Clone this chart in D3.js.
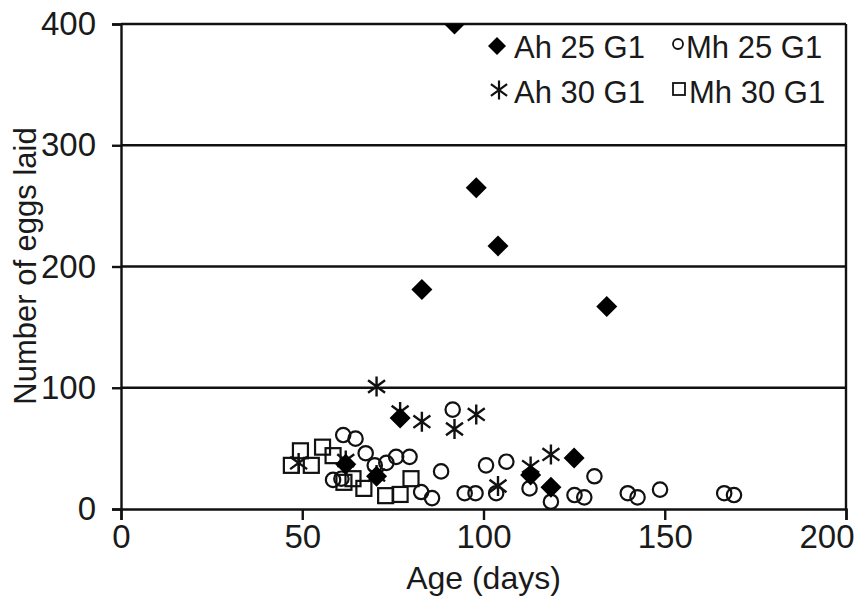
<!DOCTYPE html>
<html>
<head>
<meta charset="utf-8">
<script src="https://cdn.jsdelivr.net/npm/d3@7"></script>
<style>
  html, body { margin: 0; padding: 0; background: #ffffff; }
  svg { display: block; }
  text { font-family: "Liberation Sans", Arial, sans-serif; fill: #1a1a1a; }
</style>
</head>
<body>
<svg id="chart" width="857" height="601"></svg>
<script>
// ---- data ----
const ah25Age  = [92, 98, 104, 83, 134, 77, 62, 70.5, 113, 118.6, 125];
const ah25Eggs = [400, 265, 217, 181, 167, 75, 37, 27, 28, 18, 42];

const ah30Age  = [49, 62, 70.5, 70.5, 77, 83, 92, 98, 104, 113, 118.6];
const ah30Eggs = [38, 40, 101, 28, 80, 72, 66, 78, 19, 35, 45];

const mh25Age  = [61.3, 64.7, 67.5, 58.5, 60.8, 70, 73.2, 75.9, 79.6, 88.3, 82.8, 85.8, 91.5, 94.8, 97.8, 100.7, 106.3, 103.5, 112.7, 118.6, 130.6, 125.1, 127.8, 139.8, 142.5, 148.7, 166.4, 169.1];
const mh25Eggs = [61, 58, 46, 24, 25, 36, 38, 43, 43, 31, 14, 9, 82, 13, 13, 36, 39, 13, 17, 6, 27, 11.5, 9.6, 13, 9.6, 16, 13, 11.5];

const mh30Age  = [47, 49.5, 52.5, 55.6, 58.5, 61.5, 64, 67, 73, 77, 80];
const mh30Eggs = [36, 48, 36, 51, 44, 22, 25, 17, 11, 12, 25];

const xTicks = [0, 50, 100, 150, 200];
const yTicks = [0, 100, 200, 300, 400];
const seriesNames = ["Ah 25 G1", "Mh 25 G1", "Ah 30 G1", "Mh 30 G1"];
const xTitle = "Age (days)";
const yTitle = "Number of eggs laid";

// ---- layout ----
const svg = d3.select("#chart");
const pL = 121, pR = 846, pT = 24, pB = 509;
const x = d3.scaleLinear().domain([0, 200]).range([pL, pR]);
const y = d3.scaleLinear().domain([0, 400]).range([pB, pT]);
const FS = 31, TFS = 33;

svg.append("defs").append("clipPath").attr("id", "plotClip")
  .append("rect").attr("x", pL).attr("y", pT).attr("width", pR - pL).attr("height", pB - pT);

// gridlines
svg.append("g").selectAll("line").data(yTicks.filter(d => d > 0)).join("line")
  .attr("x1", pL).attr("x2", pR)
  .attr("y1", d => y(d)).attr("y2", d => y(d))
  .attr("stroke", "#111").attr("stroke-width", 2.4);

// right frame
svg.append("line").attr("x1", pR).attr("x2", pR).attr("y1", y(400)).attr("y2", y(0))
  .attr("stroke", "#111").attr("stroke-width", 2.4);

// axes
const yAxis = svg.append("g").attr("transform", `translate(${pL},0)`)
  .call(d3.axisLeft(y).tickValues(yTicks).tickSize(9).tickPadding(16).tickFormat(d3.format("d")));
const xAxis = svg.append("g").attr("transform", `translate(0,${pB})`)
  .call(d3.axisBottom(x).tickValues(xTicks).tickSize(11).tickPadding(5).tickFormat(d3.format("d")));
[yAxis, xAxis].forEach(g => {
  g.select(".domain").attr("stroke", "#111").attr("stroke-width", 2.4);
  g.selectAll(".tick line").attr("stroke", "#111").attr("stroke-width", 2.4);
  g.selectAll(".tick text").attr("font-size", TFS).attr("fill", "#1a1a1a")
    .attr("font-family", '"Liberation Sans", Arial, sans-serif');
});
// the last x label sits at the edge of the picture
xAxis.selectAll(".tick text").filter(d => d === 200)
  .attr("text-anchor", "end").attr("x", 854 - x(200));

// titles
svg.append("text").attr("x", (pL + pR) / 2).attr("y", 589)
  .attr("text-anchor", "middle").attr("font-size", 32).text(xTitle);
svg.append("text").attr("transform", "translate(36,266) rotate(-90)")
  .attr("text-anchor", "middle").attr("font-size", 31).text(yTitle);

// marker helpers
const diamond = s => `M0,${-s}L${s},0L0,${s}L${-s},0Z`;
const star = s => {
  const a = s * 0.85, b = s * 0.62;
  return `M0,${-s}L0,${s}M${-a},${-b}L${a},${b}M${-a},${b}L${a},${-b}`;
};

const plot = svg.append("g").attr("clip-path", "url(#plotClip)");
const pts = (xs, ys) => xs.map((v, i) => [v, ys[i]]);

// Mh 30 squares
plot.append("g").selectAll("rect").data(pts(mh30Age, mh30Eggs)).join("rect")
  .attr("x", d => x(d[0]) - 7.5).attr("y", d => y(d[1]) - 7.5)
  .attr("width", 15).attr("height", 15)
  .attr("fill", "none").attr("stroke", "#111").attr("stroke-width", 2.2);

// Mh 25 circles
plot.append("g").selectAll("circle").data(pts(mh25Age, mh25Eggs)).join("circle")
  .attr("cx", d => x(d[0])).attr("cy", d => y(d[1])).attr("r", 7.2)
  .attr("fill", "none").attr("stroke", "#111").attr("stroke-width", 2.2);

// Ah 30 asterisks
plot.append("g").selectAll("path").data(pts(ah30Age, ah30Eggs)).join("path")
  .attr("transform", d => `translate(${x(d[0])},${y(d[1])})`)
  .attr("d", star(10)).attr("fill", "none").attr("stroke", "#111").attr("stroke-width", 2.4);

// Ah 25 diamonds
plot.append("g").selectAll("path").data(pts(ah25Age, ah25Eggs)).join("path")
  .attr("transform", d => `translate(${x(d[0])},${y(d[1])})`)
  .attr("d", diamond(10.5)).attr("fill", "#000");

// legend
const leg = svg.append("g");
leg.append("path").attr("transform", "translate(497,46)").attr("d", diamond(9)).attr("fill", "#000");
leg.append("text").attr("x", 514).attr("y", 58).attr("font-size", FS).text(seriesNames[0]);
leg.append("circle").attr("cx", 678).attr("cy", 44).attr("r", 5)
  .attr("fill", "none").attr("stroke", "#111").attr("stroke-width", 1.8);
leg.append("text").attr("x", 686).attr("y", 58).attr("font-size", FS).text(seriesNames[1]);
leg.append("path").attr("transform", "translate(499,90)").attr("d", star(9.5))
  .attr("fill", "none").attr("stroke", "#111").attr("stroke-width", 2.2);
leg.append("text").attr("x", 514).attr("y", 103).attr("font-size", FS).text(seriesNames[2]);
leg.append("rect").attr("x", 673).attr("y", 83).attr("width", 12).attr("height", 12)
  .attr("fill", "none").attr("stroke", "#111").attr("stroke-width", 1.8);
leg.append("text").attr("x", 689).attr("y", 103).attr("font-size", FS).text(seriesNames[3]);
</script>
</body>
</html>
